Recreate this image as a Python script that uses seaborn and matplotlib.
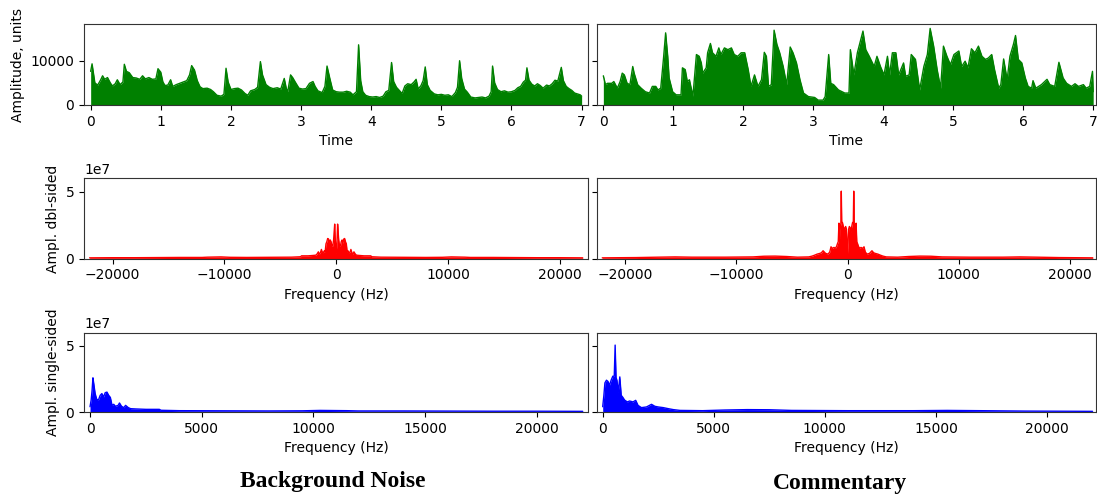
import numpy as np
import matplotlib
matplotlib.use("Agg")
import matplotlib.pyplot as plt
import seaborn as sns

# ---------------- data ----------------
# Background noise: amplitude envelope (time in s, amplitude in units)
noise_t = [0.00, 0.02, 0.06, 0.10, 0.14, 0.17, 0.20, 0.24, 0.28, 0.31, 0.35, 0.38, 0.42, 0.46,
           0.48, 0.51, 0.55, 0.60, 0.65, 0.70, 0.74, 0.78, 0.83, 0.88, 0.93, 0.96, 1.00, 1.03,
           1.06, 1.10, 1.14, 1.17, 1.22, 1.27, 1.32, 1.37, 1.41, 1.44, 1.48, 1.52, 1.56, 1.60,
           1.66, 1.71, 1.75, 1.80, 1.86, 1.90, 1.93, 1.96, 2.00, 2.05, 2.10, 2.15, 2.20, 2.24,
           2.28, 2.34, 2.38, 2.42, 2.45, 2.50, 2.55, 2.60, 2.66, 2.71, 2.76, 2.79, 2.81, 2.85,
           2.88, 2.92, 2.97, 3.02, 3.07, 3.12, 3.17, 3.20, 3.24, 3.30, 3.34, 3.37, 3.41, 3.45,
           3.50, 3.55, 3.60, 3.65, 3.70, 3.74, 3.79, 3.82, 3.85, 3.88, 3.92, 3.97, 4.02, 4.07,
           4.12, 4.17, 4.21, 4.25, 4.29, 4.32, 4.36, 4.40, 4.44, 4.48, 4.52, 4.57, 4.61, 4.64,
           4.67, 4.71, 4.74, 4.77, 4.80, 4.84, 4.90, 4.95, 5.00, 5.05, 5.10, 5.15, 5.20, 5.23,
           5.26, 5.29, 5.33, 5.37, 5.42, 5.48, 5.53, 5.58, 5.63, 5.68, 5.71, 5.73, 5.76, 5.80,
           5.85, 5.90, 5.95, 6.00, 6.05, 6.09, 6.13, 6.17, 6.20, 6.22, 6.25, 6.29, 6.33, 6.37,
           6.41, 6.45, 6.50, 6.54, 6.58, 6.62, 6.66, 6.71, 6.74, 6.78, 6.82, 6.86, 6.90, 6.94,
           6.98, 7.00]
noise_amp = [7600, 9300, 5000, 4500, 5600, 6600, 5800, 6200, 5000, 4300, 4800, 5700, 4600, 5200,
             9200, 7600, 7300, 6200, 6100, 5800, 6600, 5900, 6200, 5800, 5900, 8200, 7400, 5200,
             4400, 4500, 5700, 4200, 4600, 4900, 5200, 5500, 6800, 8900, 7900, 5500, 4100, 3700,
             3800, 3500, 3000, 2200, 2000, 2400, 8300, 5200, 3500, 3700, 3800, 3400, 2600, 2200,
             3200, 3500, 4000, 9800, 6800, 4600, 4000, 3700, 3900, 3600, 6000, 3700, 3000, 6800,
             6200, 5100, 3800, 3600, 3700, 4900, 5300, 4200, 3200, 2800, 4200, 8800, 6000, 3400,
             3000, 2900, 2900, 3100, 2900, 2300, 3000, 13600, 5500, 3000, 2200, 1900, 1800, 1900,
             1700, 2000, 3000, 3300, 9600, 5300, 4000, 3300, 2600, 4300, 4800, 4600, 5200, 5800,
             3600, 4400, 5500, 8600, 4600, 3300, 2500, 2300, 2400, 2200, 2300, 1900, 2800, 4000,
             10000, 6000, 3600, 2900, 1800, 1600, 1700, 1800, 1600, 2000, 3000, 8800, 5000, 3500,
             3000, 3200, 2900, 3000, 3300, 3900, 4200, 5200, 5600, 8400, 5600, 4700, 4300, 4800,
             4400, 3800, 4500, 4300, 4800, 5600, 5400, 8500, 5500, 4200, 3700, 3300, 2700, 2500,
             2300, 2000]

# Commentary: amplitude envelope
comm_t = [0.00, 0.03, 0.06, 0.12, 0.15, 0.20, 0.24, 0.27, 0.30, 0.34, 0.38, 0.42, 0.44, 0.49,
          0.54, 0.60, 0.66, 0.70, 0.75, 0.78, 0.82, 0.86, 0.89, 0.92, 0.94, 0.99, 1.04, 1.11,
          1.13, 1.17, 1.20, 1.23, 1.25, 1.28, 1.33, 1.37, 1.40, 1.42, 1.47, 1.49, 1.53, 1.56,
          1.61, 1.65, 1.68, 1.73, 1.78, 1.83, 1.87, 1.92, 1.97, 2.02, 2.07, 2.11, 2.16, 2.21,
          2.26, 2.30, 2.33, 2.36, 2.40, 2.44, 2.48, 2.52, 2.57, 2.62, 2.67, 2.71, 2.76, 2.81,
          2.86, 2.93, 3.02, 3.07, 3.14, 3.17, 3.22, 3.25, 3.29, 3.36, 3.45, 3.51, 3.53, 3.58,
          3.63, 3.71, 3.75, 3.80, 3.87, 3.91, 3.96, 4.01, 4.06, 4.09, 4.13, 4.18, 4.22, 4.29,
          4.32, 4.37, 4.40, 4.46, 4.52, 4.58, 4.63, 4.67, 4.72, 4.77, 4.82, 4.86, 4.91, 4.96,
          5.01, 5.08, 5.12, 5.17, 5.21, 5.26, 5.31, 5.36, 5.41, 5.46, 5.50, 5.55, 5.59, 5.65,
          5.68, 5.72, 5.77, 5.81, 5.86, 5.89, 5.93, 5.98, 6.03, 6.07, 6.12, 6.14, 6.18, 6.26,
          6.34, 6.38, 6.45, 6.51, 6.57, 6.62, 6.69, 6.74, 6.79, 6.86, 6.90, 6.95, 6.99, 7.00]
comm_amp = [6600, 4600, 4900, 4900, 5300, 3800, 5300, 7200, 6800, 4900, 4600, 8700, 7200, 4600,
            3800, 3000, 2700, 4200, 4200, 3400, 3800, 10600, 16300, 11000, 6100, 3000, 2300, 2300,
            8400, 8000, 5300, 5700, 4200, 2000, 11400, 11000, 9500, 7200, 8400, 11800, 13900, 11800,
            11000, 12900, 11400, 12900, 12500, 12900, 11400, 11000, 11800, 11800, 8000, 4200, 6800, 4200,
            5700, 11900, 11000, 4200, 4600, 16900, 13700, 11800, 8700, 4600, 13100, 11800, 9500, 5700,
            2700, 1900, 1700, 1100, 1100, 1900, 11400, 4900, 4600, 3400, 2700, 2700, 12500, 6800,
            11800, 16700, 12500, 11000, 8700, 11000, 8700, 6800, 11000, 6800, 11800, 11800, 6800, 9500,
            6500, 6800, 11400, 10300, 3400, 8700, 11400, 17300, 13300, 8000, 3800, 13300, 11000, 9100,
            11400, 12200, 8700, 9900, 8400, 12700, 11800, 13300, 11000, 10300, 10600, 11400, 8000, 3800,
            4600, 10400, 5700, 11000, 13700, 15700, 10300, 9500, 6100, 4200, 3800, 5500, 3800, 4600,
            5800, 4600, 4200, 9650, 6100, 4900, 4200, 4800, 4200, 4600, 3800, 4200, 7600, 3000]

# Single-sided spectra (frequency in Hz, amplitude)
noise_f = [0, 50, 90, 130, 170, 227, 300, 380, 455, 530, 606, 680, 758, 833, 909, 985, 1060, 1136,
           1258, 1318, 1409, 1515, 1590, 1712, 1818, 2045, 2500, 3100, 3180, 4000, 6000, 8000,
           9500, 10300, 11500, 12000, 14000, 16000, 18000, 20000, 22050]
noise_spec = [0.4e7, 0.9e7, 1.6e7, 2.58e7, 2.1e7, 1.4e7, 0.95e7, 0.92e7, 1.26e7, 1.39e7, 1.14e7,
              1.46e7, 1.5e7, 1.26e7, 1.1e7, 0.5e7, 0.58e7, 0.43e7, 0.5e7, 0.68e7, 0.43e7, 0.33e7,
              0.5e7, 0.33e7, 0.25e7, 0.23e7, 0.2e7, 0.2e7, 0.13e7, 0.1e7, 0.09e7, 0.08e7, 0.09e7,
              0.12e7, 0.1e7, 0.08e7, 0.08e7, 0.07e7, 0.06e7, 0.06e7, 0.05e7]

comm_f = [0, 50, 100, 170, 240, 300, 380, 455, 520, 560, 600, 640, 700, 770, 833, 909, 985, 1106,
          1212, 1364, 1485, 1590, 1742, 1970, 2197, 2348, 2500, 2727, 2955, 3180, 3480, 4500,
          5500, 6500, 7500, 8500, 11000, 14000, 15500, 17000, 19000, 22050]
comm_spec = [0.4e7, 1.2e7, 2.2e7, 2.4e7, 2.3e7, 2.0e7, 2.4e7, 2.7e7, 2.7e7, 5.05e7, 2.6e7, 2.4e7,
             1.5e7, 2.65e7, 1.26e7, 1.1e7, 0.9e7, 0.76e7, 0.83e7, 0.76e7, 0.88e7, 0.5e7, 0.33e7,
             0.38e7, 0.58e7, 0.43e7, 0.38e7, 0.33e7, 0.25e7, 0.18e7, 0.12e7, 0.1e7, 0.15e7,
             0.18e7, 0.17e7, 0.12e7, 0.1e7, 0.1e7, 0.12e7, 0.1e7, 0.07e7, 0.05e7]

titles = ["Background Noise", "Commentary"]

# ---------------- figure ----------------
sns.set_style("ticks")
plt.rcParams["font.family"] = ["DejaVu Sans"]
plt.rcParams["axes.edgecolor"] = "black"
plt.rcParams["xtick.color"] = "black"
plt.rcParams["ytick.color"] = "black"
plt.rcParams["axes.labelcolor"] = "black"
plt.rcParams["text.color"] = "black"

W, H = 1097, 495
fig, axes = plt.subplots(3, 2, sharey="row", figsize=(W / 100, H / 100), dpi=100)

cols_px = [(84, 588.3), (596.7, 1096)]
rows_px = [(24, 105), (178.5, 258.5), (332.5, 412)]
for r in range(3):
    for c in range(2):
        x0, x1 = cols_px[c]
        y0, y1 = rows_px[r]
        axes[r, c].set_position([x0 / W, 1 - y1 / H, (x1 - x0) / W, (y1 - y0) / H])


def area(ax, x, y, color):
    x = np.asarray(x, float)
    y = np.asarray(y, float)
    ax.fill_between(x, 0, y, color=color, lw=0)
    sns.lineplot(x=x, y=y, ax=ax, color=color, lw=1.0, estimator=None, sort=False)


series_t = [(noise_t, noise_amp), (comm_t, comm_amp)]
series_f = [(noise_f, noise_spec), (comm_f, comm_spec)]
xlim_t = [(-0.095, 7.095), (-0.095, 7.04)]
xlim_d = [(-22550, 22550), (-22550, 22340)]
xlim_s = [(-270, 22300), (-270, 22205)]

for c in range(2):
    t, a = series_t[c]
    f, s = series_f[c]
    f = np.asarray(f, float)
    s = np.asarray(s, float)
    f_dbl = np.concatenate([-f[::-1], f])
    s_dbl = np.concatenate([s[::-1], s])

    ax = axes[0, c]
    area(ax, t, a, "green")
    ax.set_xlim(*xlim_t[c])
    ax.set_ylim(0, 18300)
    ax.set_xlabel("Time")
    ax.set_xticks(range(0, 8))

    ax = axes[1, c]
    area(ax, f_dbl, s_dbl, "red")
    ax.set_xlim(*xlim_d[c])
    ax.set_ylim(0, 6.0e7)
    ax.set_xlabel("Frequency (Hz)")
    ax.set_xticks([-20000, -10000, 0, 10000, 20000])

    ax = axes[2, c]
    area(ax, f, s, "blue")
    ax.set_xlim(*xlim_s[c])
    ax.set_ylim(0, 6.0e7)
    ax.set_xlabel("Frequency (Hz)")
    ax.set_xticks([0, 5000, 10000, 15000, 20000])

axes[0, 0].set_yticks([0, 10000])
axes[1, 0].set_yticks([0, 5e7])
axes[2, 0].set_yticks([0, 5e7])
axes[0, 0].set_ylabel("Amplitude, units")
axes[1, 0].set_ylabel("Ampl. dbl-sided")
axes[2, 0].set_ylabel("Ampl. single-sided")
for ax in axes[:, 1]:
    ax.set_ylabel("")

for ax in axes.flat:
    for sp in ax.spines.values():
        sp.set_visible(True)
        sp.set_linewidth(0.8)
        sp.set_color("#333333")
    ax.tick_params(labelsize=10, length=3.5, width=0.8)

fig.text(333 / W, 1 - 482 / H, titles[0], ha="center", va="center", color="black",
         family="Liberation Serif", fontweight="bold", fontsize=17)
fig.text(840 / W, 1 - 483 / H, titles[1], ha="center", va="center", color="black",
         family="Liberation Serif", fontweight="bold", fontsize=17)

fig.savefig("out.png", dpi=100)
